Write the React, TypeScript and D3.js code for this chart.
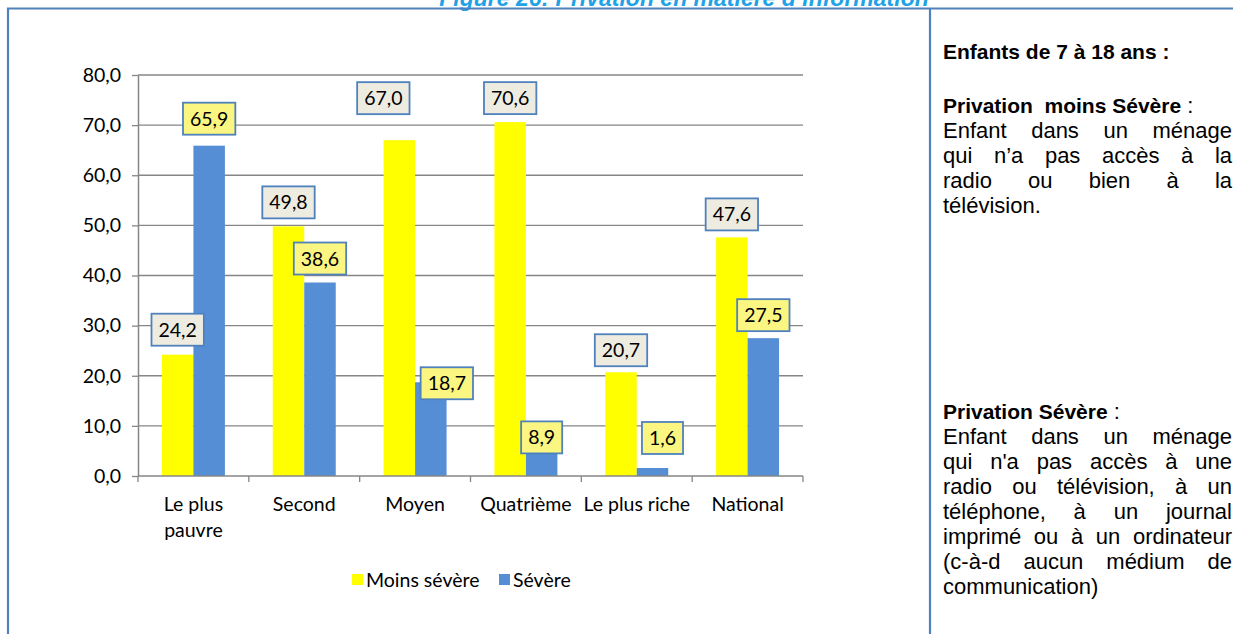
import { useEffect, useRef } from 'react'
import * as d3 from 'd3'

const categories = ['Le plus pauvre', 'Second', 'Moyen', 'Quatrième', 'Le plus riche', 'National']
const categoryLines = [['Le plus', 'pauvre'], ['Second'], ['Moyen'], ['Quatrième'], ['Le plus riche'], ['National']]
const seriesNames = ['Moins sévère', 'Sévère']
const moinsSevere = [24.2, 49.8, 67.0, 70.6, 20.7, 47.6]
const severe = [65.9, 38.6, 18.7, 8.9, 1.6, 27.5]
const yTicks = [0, 10, 20, 30, 40, 50, 60, 70, 80]

const title = 'Figure 26: Privation en matière d\u2019information'

// texte du panneau de droite : [morceaux [texte, gras], justifié]
const panelTop = [
  [[['Enfants de 7 à 18 ans :', true]], false],
]
const panelPara1 = [
  [[['Privation  moins Sévère', true], [' :', false]], false],
  [[['Enfant dans un ménage', false]], true],
  [[['qui n\u2019a pas accès à la', false]], true],
  [[['radio ou bien à la', false]], true],
  [[['télévision.', false]], false],
]
const panelPara2 = [
  [[['Privation Sévère', true], [' :', false]], false],
  [[['Enfant dans un ménage', false]], true],
  [[["qui n'a pas accès à une", false]], true],
  [[['radio ou télévision, à un', false]], true],
  [[['téléphone, à un journal', false]], true],
  [[['imprimé ou à un ordinateur', false]], true],
  [[['(c-à-d aucun médium de', false]], true],
  [[['communication)', false]], false],
]

const W = 1233
const H = 634
const YELLOW = '#FFFF00'
const BLUE = '#558ED5'
const FRAME = '#4F81BD'
const GRID = '#868686'
const chartFont = 'Lato, "Open Sans", sans-serif'
const docFont = '"Liberation Sans", Arial, sans-serif'
const chartSize = '19.5px'

// petits décalages manuels des étiquettes (comme dans l'original)
const labelNudge = [
  [[0, -1], [0, 0], [-16, -18], [0, 0], [0, 2], [0, 1]],
  [[0, -3], [0, 0], [16, 25], [0, 30], [10, -6], [0, 1]],
]

export default function App() {
  const ref = useRef<SVGSVGElement>(null)

  useEffect(() => {
    const svg = d3.select(ref.current)
    svg.selectAll('*').remove()

    svg.append('rect').attr('width', W).attr('height', H).attr('fill', '#fff')

    // titre (coupé en haut dans l'original)
    svg.append('text')
      .attr('x', 684).attr('y', 6)
      .attr('text-anchor', 'middle')
      .style('font-family', docFont)
      .style('font-size', '23px')
      .style('font-weight', 'bold')
      .style('font-style', 'italic')
      .style('fill', '#1FA2E6')
      .text(title)

    // cadre
    svg.append('path')
      .attr('d', `M8,${H + 5} V8.5 H${W + 5} M930,8.5 V${H + 5}`)
      .attr('fill', 'none')
      .attr('stroke', FRAME)
      .attr('stroke-width', 2.2)

    const x0 = d3.scaleBand().domain(categories).range([138, 803]).padding(0)
    const x1 = d3.scaleBand().domain(seriesNames).range([0, x0.bandwidth()]).paddingInner(0).paddingOuter(0.76)
    const y = d3.scaleLinear().domain([0, 80]).range([476, 75])

    // grille
    svg.append('g').selectAll('line').data(yTicks.slice(1)).enter().append('line')
      .attr('x1', 138).attr('x2', 803)
      .attr('y1', d => y(d)).attr('y2', d => y(d))
      .attr('stroke', GRID).attr('stroke-width', 1.3)

    const yAxis = svg.append('g')
      .attr('transform', 'translate(138,0)')
      .call(d3.axisLeft(y).tickValues(yTicks).tickSize(6).tickSizeOuter(0).tickFormat(d => d3.format('.1f')(d as number).replace('.', ',')))
    yAxis.select('.domain').attr('stroke', GRID).attr('stroke-width', 1.5)
    yAxis.selectAll('.tick line').attr('stroke', GRID).attr('stroke-width', 1.3)
    yAxis.selectAll('.tick text')
      .attr('x', -17)
      .style('font-family', chartFont).style('font-size', chartSize).style('fill', '#000')

    // barres
    const series = [moinsSevere, severe]
    const colors = [YELLOW, BLUE]
    series.forEach((vals, s) => {
      svg.append('g').selectAll('rect').data(vals).enter().append('rect')
        .attr('x', (d, i) => x0(categories[i])! + x1(seriesNames[s])!)
        .attr('y', d => y(d))
        .attr('width', x1.bandwidth())
        .attr('height', d => y(0) - y(d))
        .attr('fill', colors[s])
    })

    // axe x
    const xAxisLine = svg.append('g')
    xAxisLine.append('line')
      .attr('x1', 138).attr('x2', 803).attr('y1', y(0)).attr('y2', y(0))
      .attr('stroke', GRID).attr('stroke-width', 1.5)
    const bounds = categories.map(c => x0(c)!).concat([x0.range()[1]])
    xAxisLine.selectAll('.xt').data(bounds).enter().append('line')
      .attr('x1', d => d).attr('x2', d => d)
      .attr('y1', y(0)).attr('y2', y(0) + 6)
      .attr('stroke', GRID).attr('stroke-width', 1.3)

    categoryLines.forEach((lines, i) => {
      const cx = x0(categories[i])! + x0.bandwidth() / 2
      const t = svg.append('text')
        .attr('text-anchor', 'middle')
        .style('font-family', chartFont).style('font-size', chartSize).style('fill', '#000')
      lines.forEach((l, k) => {
        t.append('tspan').attr('x', cx).attr('y', 511 + k * 26).text(l)
      })
    })

    // étiquettes de valeurs
    const boxFill = ['#EEECE1', '#FAF681']
    series.forEach((vals, s) => {
      vals.forEach((v, i) => {
        const [dx, dy] = labelNudge[s][i]
        const cx = x0(categories[i])! + x1(seriesNames[s])! + x1.bandwidth() / 2 + dx
        const cy = y(v) - 24 + dy
        const g = svg.append('g')
        const rect = g.append('rect')
        const txt = g.append('text')
          .attr('x', cx).attr('y', cy).attr('dy', '0.36em')
          .attr('text-anchor', 'middle')
          .style('font-family', chartFont).style('font-size', chartSize).style('fill', '#000')
          .text(d3.format('.1f')(v).replace('.', ','))
        const tw = (txt.node() as SVGTextElement).getComputedTextLength()
        const bw = tw + 14
        rect.attr('x', cx - bw / 2).attr('y', cy - 16).attr('width', bw).attr('height', 32)
          .attr('fill', boxFill[s]).attr('stroke', FRAME).attr('stroke-width', 1.8)
      })
    })

    // légende
    const legend = svg.append('g')
    const legendX = [352, 499]
    seriesNames.forEach((n, s) => {
      legend.append('rect').attr('x', legendX[s]).attr('y', 574).attr('width', 11).attr('height', 11).attr('fill', colors[s])
      legend.append('text').attr('x', legendX[s] + 14).attr('y', 586.5)
        .style('font-family', chartFont).style('font-size', chartSize).style('fill', '#000')
        .text(n)
    })

    // panneau de droite
    const px = 943
    const pw = 1232 - px
    const lineH = 25
    const drawLines = (lines: any[], y0: number) => {
      lines.forEach((ln, k) => {
        const [parts, justify] = ln
        const ly = y0 + k * lineH
        if (!justify) {
          const t = svg.append('text').attr('x', px).attr('y', ly)
            .style('font-family', docFont).style('fill', '#000')
            .style('white-space', 'pre')
          parts.forEach(([str, bold]: [string, boolean]) => {
            t.append('tspan')
              .style('font-weight', bold ? 'bold' : 'normal')
              .style('font-size', bold ? '21px' : '22px')
              .text(str)
          })
        } else {
          const words = (parts[0][0] as string).split(' ')
          const nodes = words.map(w => svg.append('text').attr('y', ly)
            .style('font-family', docFont).style('font-size', '22px').style('fill', '#000').text(w))
          const widths = nodes.map(n => (n.node() as SVGTextElement).getComputedTextLength())
          const gap = (pw - d3.sum(widths)) / (words.length - 1)
          let cx = px
          nodes.forEach((n, j) => {
            n.attr('x', cx)
            cx += widths[j] + gap
          })
        }
      })
    }
    drawLines(panelTop, 59)
    drawLines(panelPara1, 113)
    drawLines(panelPara2, 419)
  }, [])

  return (
    <div style={{ position: 'absolute', left: 0, top: 0 }}>
      <svg ref={ref} width={W} height={H} style={{ display: 'block' }}></svg>
    </div>
  )
}
